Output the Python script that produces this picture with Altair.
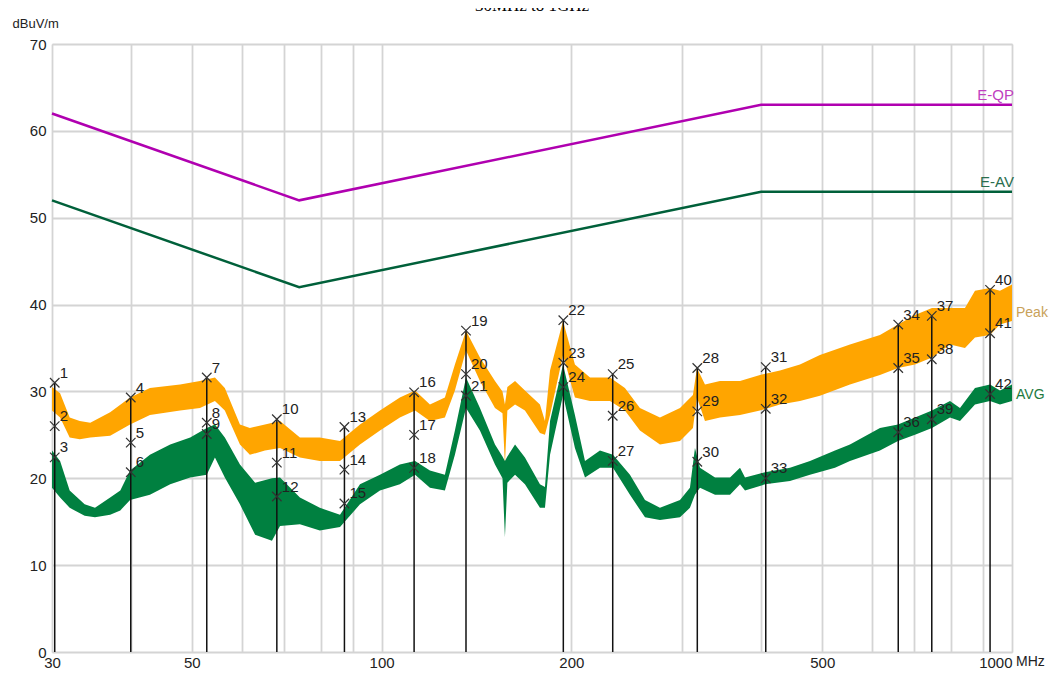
import altair as alt
import pandas as pd

# ---------------- data ----------------
# Peak trace envelope (MHz, upper dB, lower dB)
peak_f = [30.0, 30.9, 32.0, 33.2, 34.5, 37.1, 39.9, 42.9, 47.9, 51.5, 54.4, 56.4, 59.6, 61.8,
          65.3, 69.0, 74.2, 79.8, 85.9, 92.4, 99.4, 106.9, 113.0, 119.3, 126.0, 130.7, 136.1,
          143.2, 151.3, 155.5, 156.9, 158.3, 162.8, 168.8, 178.3, 181.6, 185.0, 194.0, 202.6,
          214.1, 230.3, 243.2, 256.9, 276.4, 297.4, 311.8, 316.4, 325.8, 344.2, 370.3, 398.3,
          428.5, 460.9, 495.8, 553.3, 617.4, 659.4, 701.6, 746.5, 797.3, 842.2, 873.5, 922.7,
          957.0, 1000.0]
peak_hi = [30.5, 29.8, 27.0, 26.6, 26.4, 27.6, 29.3, 30.4, 30.8, 31.2, 31.6, 30.4, 26.2, 25.8,
           26.2, 26.6, 24.7, 24.7, 24.3, 26.2, 27.8, 29.3, 30.1, 28.5, 29.3, 33.1, 37.0,
           33.9, 31.2, 30.0, 28.5, 30.5, 31.2, 30.1, 28.5, 26.6, 32.4, 38.1, 33.1,
           31.6, 31.6, 30.4, 28.1, 27.0, 28.1, 29.6, 32.7, 30.8, 31.2, 31.2, 31.9,
           32.4, 33.1, 34.2, 35.4, 36.5, 37.7, 38.8, 39.6, 39.6, 39.6, 41.6, 41.9,
           41.6, 42.3]
peak_lo = [27.8, 27.0, 24.7, 24.5, 24.7, 24.9, 26.2, 27.3, 27.8, 28.1, 28.9, 27.8, 23.9, 22.7,
           23.2, 23.5, 22.4, 22.0, 22.0, 23.9, 25.5, 27.0, 27.8, 26.6, 27.0, 30.1, 34.7,
           31.2, 28.1, 27.5, 21.6, 27.8, 28.5, 27.8, 25.2, 25.0, 27.3, 34.2, 29.3,
           28.9, 28.9, 27.8, 25.5, 23.9, 24.3, 25.8, 29.3, 26.6, 27.0, 27.3, 27.8,
           28.5, 28.9, 29.5, 30.8, 31.9, 32.7, 33.1, 33.9, 35.4, 35.0, 36.2, 36.5,
           37.7, 38.1]

# AVG trace envelope (MHz, upper dB, lower dB)
avg_f = [30.0, 30.9, 32.0, 33.8, 35.1, 37.1, 38.5, 39.9, 42.9, 46.2, 49.7, 52.8, 54.4, 56.4,
         59.6, 63.0, 67.0, 69.0, 74.2, 79.8, 85.9, 92.4, 99.4, 106.9, 113.0, 119.3, 126.0,
         130.7, 136.1, 143.2, 151.3, 155.5, 156.9, 158.3, 162.8, 168.8, 178.3, 181.6, 185.0,
         194.0, 202.6, 210.2, 222.0, 232.8, 247.7, 261.7, 276.4, 297.4, 308.4, 314.1, 319.9,
         338.0, 357.0, 370.3, 377.1, 405.7, 444.4, 478.1, 523.8, 553.3, 617.4, 659.4, 701.6,
         746.5, 797.3, 827.0, 873.5, 922.7, 957.0, 1000.0]
avg_hi = [23.2, 22.0, 18.6, 17.0, 16.6, 17.8, 18.6, 20.9, 22.7, 23.9, 24.7, 25.8, 26.2, 24.7,
          21.6, 19.5, 20.0, 20.1, 17.8, 16.6, 15.8, 19.3, 20.4, 21.6, 22.0, 20.9, 20.4,
          25.5, 31.6, 28.1, 23.9, 22.5, 22.0, 22.5, 23.9, 22.4, 19.3, 19.0, 26.6,
          33.1, 27.3, 22.0, 23.2, 22.7, 20.4, 17.5, 16.6, 17.5, 18.9, 23.5, 21.2,
          20.1, 20.1, 21.2, 20.1, 20.7, 21.2, 22.0, 23.2, 23.9, 25.8, 26.2, 27.0,
          27.8, 28.9, 28.1, 30.4, 30.8, 30.1, 30.8]
avg_lo = [18.9, 17.8, 16.6, 15.7, 15.5, 15.8, 16.3, 17.5, 18.1, 19.3, 20.1, 20.4, 22.4, 20.1,
          17.0, 13.5, 12.8, 14.5, 14.7, 14.0, 14.4, 17.0, 18.6, 19.3, 20.4, 18.9, 18.6,
          22.7, 28.1, 25.5, 21.6, 20.0, 13.2, 19.5, 20.4, 19.3, 16.6, 16.6, 22.7,
          29.6, 23.5, 20.1, 21.2, 21.2, 18.1, 15.5, 15.2, 15.5, 16.6, 18.1, 18.9,
          18.1, 18.1, 19.3, 18.6, 19.3, 19.7, 20.4, 21.2, 22.0, 23.2, 24.3, 25.0,
          25.8, 27.0, 26.6, 28.5, 28.9, 28.5, 28.9]

# limit lines
lim_f = [30.0, 74.0, 400.0, 1000.0]
qp_lim = [62.0, 52.0, 63.0, 63.0]
av_lim = [52.0, 42.0, 53.0, 53.0]

# markers
mk_f = [30.3, 30.3, 30.3, 40.0, 40.0, 40.0, 52.8, 52.8, 52.8, 68.2, 68.2, 68.2,
        87.3, 87.3, 87.3, 112.6, 112.6, 112.6, 136.1, 136.1, 136.1, 194.2, 194.2, 194.2,
        232.6, 232.6, 232.6, 316.8, 316.8, 316.8, 406.8, 406.8, 406.8, 660.0, 660.0, 660.0,
        746.0, 746.0, 746.0, 923.0, 923.0, 923.0]
mk_v = [31.0, 26.0, 22.4, 29.3, 24.1, 20.7, 31.6, 26.4, 25.1, 26.8, 21.8, 17.9,
        25.9, 21.0, 17.1, 29.9, 25.0, 21.2, 37.0, 32.0, 29.5, 38.2, 33.3, 30.5,
        32.0, 27.2, 22.0, 32.7, 27.7, 21.9, 32.8, 28.0, 20.0, 37.7, 32.7, 25.3,
        38.7, 33.7, 26.8, 41.7, 36.7, 29.7]
mk_lbl = [str(i) for i in range(1, 43)]

x_grid = [30, 40, 50, 60, 70, 80, 90, 100, 200, 300, 400, 500, 600, 700, 800, 900, 1000]
x_labels = [30, 50, 100, 200, 500, 1000]
y_ticks = [0, 10, 20, 30, 40, 50, 60, 70]

# ---------------- tables ----------------
peak_df = pd.DataFrame({"f": peak_f, "y": peak_hi, "y2": peak_lo})
avg_df = pd.DataFrame({"f": avg_f, "y": avg_hi, "y2": avg_lo})
qp_df = pd.DataFrame({"f": lim_f, "y": qp_lim})
av_df = pd.DataFrame({"f": lim_f, "y": av_lim})
mk_df = pd.DataFrame({"f": mk_f, "y": mk_v, "lbl": mk_lbl})
rule_df = mk_df.groupby("f", as_index=False)["y"].max()

FONT = "Liberation Sans, Arial, sans-serif"

xscale = alt.Scale(type="log", domain=[30, 1000], nice=False)
yscale = alt.Scale(domain=[0, 70], nice=False)

label_test = "indexof(" + str(x_labels) + ", datum.value) >= 0"
x_axis = alt.Axis(
    values=x_grid, title=None, ticks=False, domain=False,
    labelExpr=f"{label_test} ? toString(datum.value) : ''",
    labelAlign={"condition": {"test": "datum.value >= 1000", "value": "right"}, "value": "center"},
    labelFlush=False, labelOverlap=False, labelPadding=3,
    labelFont=FONT, labelFontSize=15, labelColor="#222",
    grid=True, gridColor="#d4d4d4", gridWidth=1.8,
)
y_axis = alt.Axis(
    values=y_ticks, title="dBuV/m", titleAngle=0, titleAlign="left", titleBaseline="alphabetic",
    titleX=-40, titleY=-17, titleFont=FONT, titleFontSize=13, titleFontWeight="normal",
    titleColor="#222", ticks=False, domain=False, labelPadding=6,
    labelFont=FONT, labelFontSize=15, labelColor="#222",
    grid=True, gridColor="#d4d4d4", gridWidth=1.8,
)

X = alt.X("f:Q", scale=xscale, axis=x_axis)
Y = alt.Y("y:Q", scale=yscale, axis=y_axis)
Xn = alt.X("f:Q", scale=xscale)
Yn = alt.Y("y:Q", scale=yscale)

peak = alt.Chart(peak_df).mark_area(color="#FFA500", opacity=1).encode(x=X, y=Y, y2="y2:Q")
avg = alt.Chart(avg_df).mark_area(color="#008040", opacity=1).encode(x=Xn, y=Yn, y2="y2:Q")

qp = alt.Chart(qp_df).mark_line(color="#B000B0", strokeWidth=2.5).encode(x=Xn, y=Yn)
av = alt.Chart(av_df).mark_line(color="#00603A", strokeWidth=2.5).encode(x=Xn, y=Yn)

rules = alt.Chart(rule_df).mark_rule(color="#111", strokeWidth=1.5).encode(
    x=Xn, y=Yn, y2=alt.datum(0))

marks = alt.Chart(mk_df).mark_point(
    shape="M-1,-1L1,1M-1,1L1,-1", size=90, filled=False, color="#333", strokeWidth=1.2, opacity=1
).encode(x=Xn, y=Yn)

mk_text = alt.Chart(mk_df).mark_text(
    align="left", baseline="bottom", dx=5, dy=-2, font=FONT, fontSize=15, color="#222"
).encode(x=Xn, y=Yn, text="lbl:N")

# series labels
lim_lbl_df = pd.DataFrame({"f": [1000.0, 1000.0], "y": [63.0, 53.0], "t": ["E-QP", "E-AV"],
                           "c": ["#C040C0", "#2A6E4E"]})
lim_lbl = alt.Chart(lim_lbl_df).mark_text(
    align="right", baseline="bottom", dx=2, dy=-2, font=FONT, fontSize=15
).encode(x=Xn, y=Yn, text="t:N", color=alt.Color("c:N", scale=None))

tr_lbl_df = pd.DataFrame({"f": [1000.0, 1000.0], "y": [39.0, 29.6], "t": ["Peak", "AVG"],
                          "c": ["#C9A25A", "#1E7A3E"]})
tr_lbl = alt.Chart(tr_lbl_df).mark_text(
    align="left", baseline="middle", dx=4, font=FONT, fontSize=14
).encode(x=Xn, y=Yn, text="t:N", color=alt.Color("c:N", scale=None))

unit_df = pd.DataFrame({"f": [1000.0], "y": [0.0], "t": ["MHz"]})
unit = alt.Chart(unit_df).mark_text(
    align="left", baseline="top", dx=4, dy=3, font=FONT, fontSize=14, color="#222"
).encode(x=Xn, y=Yn, text="t:N")

chart = alt.layer(peak, avg, qp, av, rules, marks, mk_text, lim_lbl, tr_lbl, unit).properties(
    width=960, height=608,
    autosize=alt.AutoSizeParams(type="none"),
    padding={"left": 44, "top": 36, "right": 38, "bottom": 20},
    title=alt.TitleParams("30MHz to 1GHz", font="Liberation Serif, Times New Roman, serif",
                          fontSize=17, fontWeight="normal", anchor="middle", frame="group",
                          offset=2, color="#000"),
).configure_view(stroke="#a8a8a8", strokeWidth=3).configure(background="white")

chart.save("out.html", embed_options={"renderer": "svg", "actions": False})
